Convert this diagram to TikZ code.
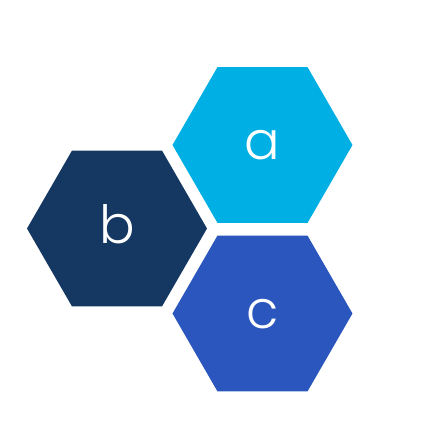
\documentclass[tikz,border=0pt]{standalone}
\usepackage{fontspec}
\setmainfont{Poppins}[UprightFont=* Light]
\usepackage{tikz}
\usetikzlibrary{shapes.geometric}
\definecolor{hexsky}{HTML}{00AFE3}
\definecolor{hexnavy}{HTML}{143862}
\definecolor{hexroyal}{HTML}{2A56BD}
\tikzset{
  hexnode/.style={regular polygon, regular polygon sides=6, minimum size=1.8cm, inner sep=0pt, outer sep=0pt, draw=none, text=white, font=\fontsize{15}{15}\selectfont, text height=8.5pt, text depth=0pt}
}

\begin{document}
\begin{tikzpicture}[x=0.1mm, y=-0.1mm]
      \useasboundingbox (0,0) rectangle (443,443);
      \node[hexnode, fill=hexsky] (a) at (262.5,145) {a};
      \node[hexnode, fill=hexnavy] (b) at (117,228.5) {b};
      \node[hexnode, fill=hexroyal] (c) at (262.5,313.5) {c};
    \end{tikzpicture}
\end{document}
